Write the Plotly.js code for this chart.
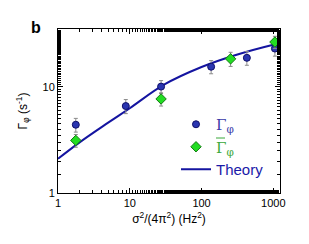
<!DOCTYPE html>
<html>
<head>
<meta charset="utf-8">
<script src="https://cdn.plot.ly/plotly-3.0.1.min.js"></script>
<style>html,body{margin:0;padding:0;background:#fff;}#chart{width:309px;height:244px;}</style>
</head>
<body>
<div id="chart"></div>
<script>
// Γφ data
const gammaX = [1.77, 8.8, 27.3, 136, 428, 1052];
const gammaY = [4.4, 6.6, 10.07, 15.5, 18.8, 23.0];
const gammaErr = [0.65, 1.0, 1.4, 2.2, 2.8, 3.5];
// Γ̄φ data
const gammaBarX = [1.77, 27.3, 254, 1052];
const gammaBarY = [3.13, 7.7, 18.4, 26.5];
const gammaBarErr = [0.43, 1.1, 2.8, 3.5];
// Theory curve
const theoryX = [1, 2, 5, 10, 30, 100, 300, 1000, 1240];
const theoryY = [2.1, 3.0, 4.6, 6.3, 10.5, 15.4, 20.0, 25.0, 25.8];
// tick labels
const xTicks = [1, 10, 100, 1000];
const xTickText = ['1', '10', '100', '1000'];
const yTicks = [1, 10];
const yTickText = ['1', '10'];

const traces = [
  {
    x: theoryX, y: theoryY, type: 'scatter', mode: 'lines',
    line: {color: '#1414a0', width: 2, shape: 'spline'},
    name: '<span style="color:#1a1aa8">Theory</span>', legendrank: 3
  },
  {
    x: gammaX, y: gammaY, type: 'scatter', mode: 'markers',
    marker: {symbol: 'circle', size: 7, color: '#2a35b0', line: {color: '#10106a', width: 1}},
    error_y: {type: 'data', array: gammaErr, visible: true, color: '#8a8a8a', thickness: 1, width: 2},
    name: '<span style="color:#3a3aa8;font-family:\'DejaVu Serif\',serif">Γ<sub>φ</sub></span>', legendrank: 1
  },
  {
    x: gammaBarX, y: gammaBarY, type: 'scatter', mode: 'markers',
    marker: {symbol: 'diamond', size: 8, color: '#22dd22', line: {color: '#137a13', width: 1}},
    error_y: {type: 'data', array: gammaBarErr, visible: true, color: '#8a8a8a', thickness: 1, width: 2},
    name: '<span style="color:#3aa83a;font-family:\'DejaVu Serif\',serif">Γ<sub>φ</sub></span>', legendrank: 2
  }
];

const axisCommon = {
  type: 'log', showgrid: false, zeroline: false,
  showline: true, linecolor: '#000', linewidth: 1, mirror: 'ticks',
  ticks: 'inside', ticklen: 5, tickcolor: '#000', tickwidth: 1,
  minor: {ticks: 'inside', ticklen: 3, tickcolor: '#000', tickwidth: 1, showgrid: false},
  tickfont: {family: 'Liberation Sans, Arial, sans-serif', size: 11, color: '#000'}
};

const L = 58, R = 280, T = 29, B = 193;
const px = v => (v - L) / (R - L);
const py = v => (B - v) / (B - T);

const layout = {
  width: 309, height: 244,
  margin: {l: 58, r: 29, t: 29, b: 51},
  paper_bgcolor: '#fff', plot_bgcolor: '#fff',
  font: {family: 'Liberation Sans, Arial, sans-serif', color: '#000'},
  xaxis: Object.assign({}, axisCommon, {
    range: [0, 3.093], tickmode: 'array', tickvals: xTicks, ticktext: xTickText,
    title: {text: 'σ<sup>2</sup>/(4π<sup>2</sup>) (Hz<sup>2</sup>)', font: {size: 12, family: 'Liberation Sans, Arial, sans-serif'}, standoff: 6}
  }),
  yaxis: Object.assign({}, axisCommon, {
    range: [0, 1.546], tickmode: 'array', tickvals: yTicks, ticktext: yTickText,
    title: {text: 'Γ<sub>φ</sub> (s<sup>-1</sup>)', font: {size: 12, family: 'Liberation Sans, Arial, sans-serif'}, standoff: 12}
  }),
  showlegend: true,
  legend: {
    x: px(176), y: py(108), xref: 'paper', yref: 'paper', xanchor: 'left', yanchor: 'top',
    font: {size: 15, family: 'Liberation Sans, Arial, sans-serif'},
    bgcolor: 'rgba(0,0,0,0)', borderwidth: 0, itemwidth: 30
  },
  shapes: [
    {type: 'line', xref: 'paper', yref: 'paper', x0: px(216), x1: px(225), y0: py(138), y1: py(138),
     line: {color: '#3aa83a', width: 1}}
  ],
  annotations: [
    {text: '<b>b</b>', xref: 'paper', yref: 'paper', x: px(29), y: py(27), xanchor: 'left', yanchor: 'middle',
     showarrow: false, font: {size: 16, family: 'Liberation Sans, Arial, sans-serif', color: '#000'}}
  ]
};

Plotly.newPlot('chart', traces, layout, {displayModeBar: false, staticPlot: true});
</script>
</body>
</html>
